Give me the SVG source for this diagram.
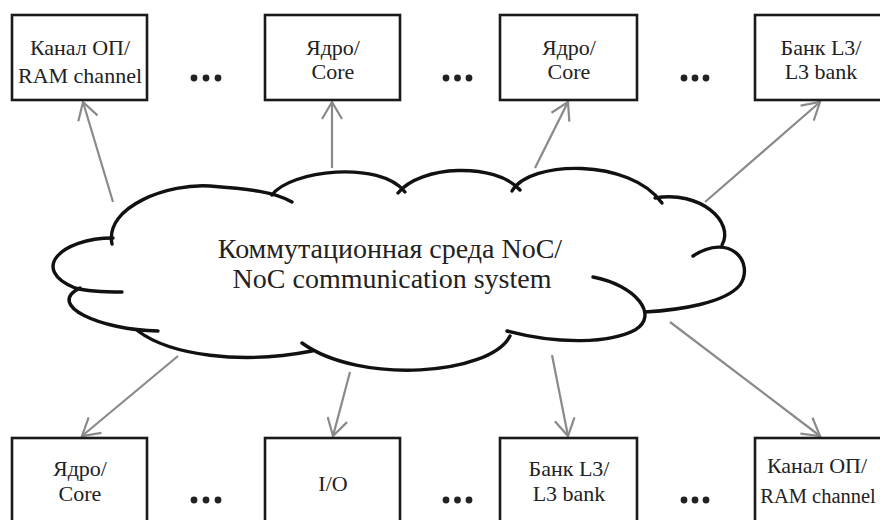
<svg xmlns="http://www.w3.org/2000/svg" width="880" height="520" viewBox="0 0 880 520">
<defs>
<style>
.box{fill:#fff;stroke:#1a1a1a;stroke-width:2.6}
.t{font-family:"Liberation Serif","Times New Roman",serif;font-size:22px;fill:#222;text-anchor:middle}
.ct{font-family:"Liberation Serif","Times New Roman",serif;font-size:28px;fill:#222;text-anchor:middle}
.cl{fill:none;stroke:#111;stroke-width:3.4;stroke-linecap:round}
.ar{fill:none;stroke:#8a8a8a;stroke-width:2.2}
.dot{fill:#222}
</style>
<marker id="ah" viewBox="0 0 20 22" refX="18" refY="11" markerWidth="20" markerHeight="22" markerUnits="userSpaceOnUse" orient="auto">
<path d="M1,1 L18,11 L1,21" fill="none" stroke="#8a8a8a" stroke-width="2.2"/>
</marker>
</defs>
<rect width="880" height="520" fill="#fff"/>

<g id="cloud">
<path class="cl" d="M112,244 C104,206 170,183 210,186 S275,192 292,202"/>
<path class="cl" d="M272,195 C290,170 380,160 405,192"/>
<path class="cl" d="M398,193 C420,165 495,162 520,190"/>
<path class="cl" d="M512,191 C530,160 630,158 662,203"/>
<path class="cl" d="M655,198 C700,190 735,222 722,245"/>
<path class="cl" d="M693,256 C730,232 755,262 740,285 C725,303 680,310 645,312"/>
<path class="cl" d="M593,277 C635,285 660,315 635,330 C610,343 560,345 507,331"/>
<path class="cl" d="M510,336 C490,375 360,385 302,343"/>
<path class="cl" d="M312,351 C240,365 170,355 138,331"/>
<path class="cl" d="M158,331 C100,330 45,305 80,288"/>
<path class="cl" d="M113,238 C60,238 30,270 75,288 C90,292 110,292 122,292"/>
<text class="ct" x="390" y="258">Коммутационная среда NoC/</text>
<text class="ct" x="392" y="288">NoC communication system</text>
</g>

<g id="connectors">
<line class="ar" x1="113" y1="202" x2="83" y2="102" marker-end="url(#ah)"/>
<line class="ar" x1="332" y1="168" x2="332" y2="102" marker-end="url(#ah)"/>
<line class="ar" x1="535" y1="168" x2="568" y2="102" marker-end="url(#ah)"/>
<line class="ar" x1="705" y1="202" x2="820" y2="102" marker-end="url(#ah)"/>
<line class="ar" x1="178" y1="356" x2="82" y2="436" marker-end="url(#ah)"/>
<line class="ar" x1="350" y1="372" x2="333" y2="436" marker-end="url(#ah)"/>
<line class="ar" x1="552" y1="355" x2="568" y2="436" marker-end="url(#ah)"/>
<line class="ar" x1="670" y1="322" x2="820" y2="436" marker-end="url(#ah)"/>
</g>

<g id="top-ram">
<rect class="box" x="12" y="15" width="135" height="85"/>
<text class="t" x="80" y="55">Канал ОП/</text>
<text class="t" x="80" y="83">RAM channel</text>
</g>
<g id="top-core1">
<rect class="box" x="265" y="15" width="135" height="85"/>
<text class="t" x="333" y="55">Ядро/</text>
<text class="t" x="333" y="79">Core</text>
</g>
<g id="top-core2">
<rect class="box" x="500" y="15" width="137" height="85"/>
<text class="t" x="569" y="55">Ядро/</text>
<text class="t" x="569" y="79">Core</text>
</g>
<g id="top-l3">
<rect class="box" x="755" y="15" width="135" height="85"/>
<text class="t" x="821" y="55">Банк L3/</text>
<text class="t" x="821" y="79">L3 bank</text>
</g>

<g id="bottom-core">
<rect class="box" x="12" y="438" width="135" height="90"/>
<text class="t" x="80" y="476">Ядро/</text>
<text class="t" x="80" y="501">Core</text>
</g>
<g id="bottom-io">
<rect class="box" x="265" y="438" width="135" height="90"/>
<text class="t" x="333" y="491">I/O</text>
</g>
<g id="bottom-l3">
<rect class="box" x="500" y="438" width="137" height="90"/>
<text class="t" x="569" y="476">Банк L3/</text>
<text class="t" x="569" y="501">L3 bank</text>
</g>
<g id="bottom-ram">
<rect class="box" x="755" y="438" width="135" height="90"/>
<text class="t" x="817" y="473">Канал ОП/</text>
<text class="t" x="818" y="503" style="font-size:20.5px">RAM channel</text>
</g>

<g id="ellipses">
<circle class="dot" cx="194" cy="78" r="3.4"/><circle class="dot" cx="206" cy="78" r="3.4"/><circle class="dot" cx="218" cy="78" r="3.4"/>
<circle class="dot" cx="446" cy="78" r="3.4"/><circle class="dot" cx="457.5" cy="78" r="3.4"/><circle class="dot" cx="469" cy="78" r="3.4"/>
<circle class="dot" cx="684" cy="78" r="3.4"/><circle class="dot" cx="695" cy="78" r="3.4"/><circle class="dot" cx="706" cy="78" r="3.4"/>
<circle class="dot" cx="194" cy="500" r="3.4"/><circle class="dot" cx="206" cy="500" r="3.4"/><circle class="dot" cx="218" cy="500" r="3.4"/>
<circle class="dot" cx="446" cy="500" r="3.4"/><circle class="dot" cx="457.5" cy="500" r="3.4"/><circle class="dot" cx="469" cy="500" r="3.4"/>
<circle class="dot" cx="684" cy="500" r="3.4"/><circle class="dot" cx="695" cy="500" r="3.4"/><circle class="dot" cx="706" cy="500" r="3.4"/>
</g>
</svg>
